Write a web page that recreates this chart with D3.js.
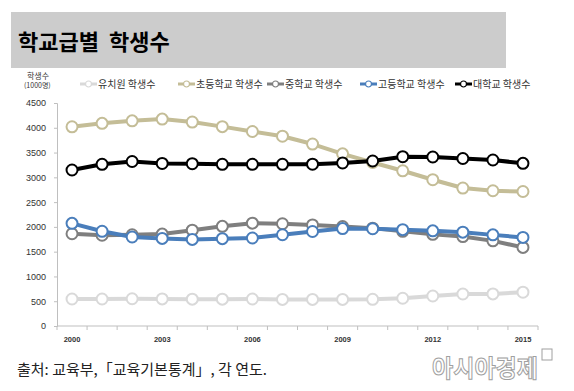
<!DOCTYPE html>
<html>
<head>
<meta charset="utf-8">
<script src="https://cdn.jsdelivr.net/npm/d3@7"></script>
<style>
  body { margin: 0; background: #fff; }
  svg text { font-family: "Noto Sans CJK KR", "Noto Sans", sans-serif; }
</style>
</head>
<body>
<svg id="chart" width="574" height="391"></svg>
<script>
// years on the category axis
var years = d3.range(2000, 2016);
var yearLabels = ['2000', '2003', '2006', '2009', '2012', '2015'];

// students, 1000s
var kinder = [545, 545, 550, 546, 541, 541, 545, 537, 537, 537, 539, 560, 605, 646, 648, 682];
var elem = [4020, 4090, 4140, 4175, 4116, 4023, 3925, 3830, 3672, 3474, 3299, 3132, 2952, 2784, 2729, 2714];
var middle = [1861, 1831, 1841, 1855, 1934, 2011, 2075, 2063, 2039, 2007, 1975, 1911, 1849, 1804, 1718, 1586];
var high = [2071, 1911, 1796, 1767, 1747, 1763, 1776, 1841, 1907, 1966, 1962, 1944, 1920, 1894, 1839, 1788];
var univ = [3148, 3263, 3320, 3280, 3275, 3263, 3263, 3263, 3265, 3290, 3330, 3416, 3410, 3380, 3350, 3283];

var seriesNames = ['유치원 학생수', '초등학교 학생수', '중학교 학생수', '고등학교 학생수', '대학교 학생수'];
var seriesColors = ['#d9d9d9', '#c4bd97', '#7f7f7f', '#4a7ebb', '#000000'];
var seriesValues = [kinder, elem, middle, high, univ];
var yTicks = d3.range(0, 4501, 500);

var svg = d3.select('#chart');

// header band
svg.append('rect')
	.attr('x', 11).attr('y', 12)
	.attr('width', 495).attr('height', 56)
	.attr('fill', '#cccccc');
svg.append('text')
	.attr('x', 18).attr('y', 50)
	.attr('font-size', 22)
	.attr('font-weight', 'bold')
	.attr('fill', '#000')
	.text('학교급별\u00a0\u00a0학생수');

var x = d3.scaleBand().domain(years).range([57, 538]);
var y = d3.scaleLinear().domain([0, 4500]).range([326, 103]);

// y axis
var yAxis = svg.append('g')
	.attr('transform', 'translate(57,0)')
	.call(d3.axisLeft(y).tickValues(yTicks).tickFormat(d3.format('d')).tickSize(3).tickPadding(8));
yAxis.select('.domain').attr('stroke', '#bfbfbf');
yAxis.selectAll('.tick line').attr('stroke', '#bfbfbf');
yAxis.selectAll('.tick text')
	.attr('font-size', 9)
	.attr('fill', '#333')
	.style('font-family', 'Liberation Sans, Arial, sans-serif');

// x axis: ticks on band edges, labels every third year
var xAxis = svg.append('g').attr('transform', 'translate(0,326)');
xAxis.append('line')
	.attr('x1', 57).attr('x2', 538)
	.attr('stroke', '#bfbfbf');
xAxis.selectAll('.edge').data(years.concat([2016]))
	.enter().append('line')
	.attr('class', 'edge')
	.attr('x1', function(d) { return d === 2016 ? 538 : x(d); })
	.attr('x2', function(d) { return d === 2016 ? 538 : x(d); })
	.attr('y1', 0).attr('y2', 4)
	.attr('stroke', '#bfbfbf');
xAxis.selectAll('.lbl').data(yearLabels)
	.enter().append('text')
	.attr('class', 'lbl')
	.attr('x', function(d) { return x(+d) + x.bandwidth() / 2; })
	.attr('y', 16)
	.attr('text-anchor', 'middle')
	.attr('font-size', 7.5)
	.attr('font-weight', 'bold')
	.attr('fill', '#333')
	.style('font-family', 'Liberation Sans, Arial, sans-serif')
	.text(function(d) { return d; });

// y axis title
svg.append('text')
	.attr('x', 27).attr('y', 79)
	.attr('font-size', 8).attr('fill', '#333')
	.text('학생수');
svg.append('text')
	.attr('x', 24).attr('y', 88)
	.attr('font-size', 7).attr('fill', '#333')
	.text('(1000명)');

// lines
var line = d3.line()
	.x(function(d, i) { return x(years[i]) + x.bandwidth() / 2; })
	.y(function(d) { return y(d); });

seriesValues.forEach(function(vals, k) {
	var g = svg.append('g');
	g.append('path')
		.attr('d', line(vals))
		.attr('fill', 'none')
		.attr('stroke', seriesColors[k])
		.attr('stroke-width', 4)
		.attr('stroke-linejoin', 'round');
	g.selectAll('circle').data(vals)
		.enter().append('circle')
		.attr('cx', function(d, i) { return x(years[i]) + x.bandwidth() / 2; })
		.attr('cy', function(d) { return y(d); })
		.attr('r', 5.5)
		.attr('fill', '#fff')
		.attr('stroke', seriesColors[k])
		.attr('stroke-width', 2);
});

// legend
var legendX = [80, 178, 267, 360, 455];
var legend = svg.append('g');
seriesNames.forEach(function(name, k) {
	var lg = legend.append('g').attr('transform', 'translate(' + legendX[k] + ',84)');
	lg.append('line')
		.attr('x1', 0).attr('x2', 17)
		.attr('stroke', seriesColors[k]).attr('stroke-width', 3);
	lg.append('circle')
		.attr('cx', 8.5).attr('cy', 0).attr('r', 3)
		.attr('fill', '#fff')
		.attr('stroke', seriesColors[k]).attr('stroke-width', 1.2);
	lg.append('text')
		.attr('x', 18).attr('y', 3.5)
		.attr('font-size', 10).attr('fill', '#333')
		.text(name);
});

// source note
svg.append('text')
	.attr('x', 17).attr('y', 375)
	.attr('font-size', 15).attr('fill', '#222')
	.text('출처: 교육부,「교육기본통계」, 각 연도.');

// watermark
svg.append('text')
	.attr('x', 432).attr('y', 377)
	.attr('font-size', 24)
	.attr('font-weight', 'bold')
	.attr('textLength', 106)
	.attr('lengthAdjust', 'spacingAndGlyphs')
	.attr('fill', '#fff')
	.attr('stroke', '#a0a0a0')
	.attr('stroke-width', 1)
	.text('아시아경제');
svg.append('rect')
	.attr('x', 542).attr('y', 349)
	.attr('width', 10).attr('height', 11)
	.attr('fill', 'none')
	.attr('stroke', '#a0a0a0');
</script>
</body>
</html>
